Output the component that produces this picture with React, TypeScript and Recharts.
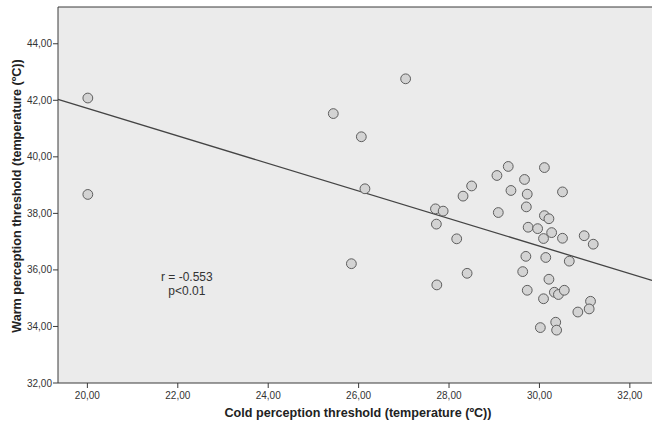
import React from 'react';
import {
  ScatterChart,
  Scatter,
  XAxis,
  YAxis,
  CartesianGrid,
  ReferenceLine,
  Label,
  ReferenceDot,
} from 'recharts';

// Cold perception threshold (x) and warm perception threshold (y), one entry per subject
const coldThreshold = [
  20.01, 20.01, 27.04, 25.44, 26.06, 26.14, 27.7, 27.87, 27.72, 28.17,
  25.84, 27.73, 29.31, 30.11, 29.06, 29.67, 28.5, 29.37, 30.51, 29.73,
  28.31, 29.71, 29.09, 30.11, 30.21, 29.75, 29.96, 30.27, 30.99, 30.09,
  30.51, 31.19, 29.7, 30.14, 30.66, 28.4, 29.63, 30.21, 29.73, 30.33,
  30.42, 30.55, 30.09, 31.13, 31.1, 30.85, 30.36, 30.02, 30.38,
];
const warmThreshold = [
  42.08, 38.67, 42.76, 41.53, 40.71, 38.87, 38.16, 38.08, 37.62, 37.1,
  36.22, 35.47, 39.66, 39.62, 39.34, 39.2, 38.97, 38.81, 38.76, 38.68,
  38.61, 38.23, 38.03, 37.92, 37.81, 37.51, 37.46, 37.32, 37.21, 37.11,
  37.12, 36.91, 36.48, 36.44, 36.31, 35.88, 35.94, 35.67, 35.28, 35.21,
  35.13, 35.28, 34.98, 34.89, 34.62, 34.51, 34.15, 33.96, 33.87,
];

const xDomain = [19.35, 32.49];
const yDomain = [32, 45.3];
const xTicks = [20, 22, 24, 26, 28, 30, 32];
const yTicks = [32, 34, 36, 38, 40, 42, 44];

// Fit line end points
const fitLineX = [19.35, 32.49];
const fitLineY = [42.03, 35.63];

const annotationLines = ['r = -0.553', 'p<0.01'];
const annotationAnchor = { x: 22.2, y: 35.45 };

const xTitle = 'Cold perception threshold (temperature (ºC))';
const yTitle = 'Warm perception threshold (temperature (ºC))';

const points = coldThreshold.map((x, i) => ({ x, y: warmThreshold[i] }));

const FONT = '"Liberation Sans", Arial, sans-serif';
const AXIS_COLOR = '#3a3a3a';

const fmt = (v: number) => v.toFixed(2).replace('.', ',');

const Dot = (props: any) => {
  const { cx, cy } = props;
  if (cx == null || cy == null) return null;
  return <circle cx={cx} cy={cy} r={4.9} fill="#d3d3d3" stroke="#5e5e5e" strokeWidth={1} />;
};

export default function App() {
  return (
    <div style={{ position: 'absolute', left: 0, top: 0, width: 652, height: 423, background: '#fff', overflow: 'hidden' }}>
      <ScatterChart
        width={652}
        height={423}
        margin={{ top: 7, right: 0, bottom: 0, left: 0 }}
        style={{ fontFamily: FONT }}
      >
        <CartesianGrid fill="#ebebeb" fillOpacity={1} horizontal={false} vertical={false} stroke="none" />
        <XAxis
          type="number"
          dataKey="x"
          domain={xDomain}
          ticks={xTicks}
          allowDataOverflow
          height={40}
          tickFormatter={fmt}
          tickSize={5}
          tickMargin={4}
          axisLine={{ stroke: AXIS_COLOR }}
          tickLine={{ stroke: AXIS_COLOR }}
          tick={{ fill: '#333', fontSize: 10, fontFamily: FONT }}
        >
          <Label
            content={(p: any) => {
              const vb = p.viewBox || {};
              return (
                <text
                  x={vb.x + vb.width / 2 + 3}
                  y={417}
                  textAnchor="middle"
                  fontSize={12.6}
                  fontWeight="bold"
                  fill="#222"
                  fontFamily={FONT}
                >
                  {xTitle}
                </text>
              );
            }}
          />
        </XAxis>
        <YAxis
          type="number"
          dataKey="y"
          domain={yDomain}
          ticks={yTicks}
          allowDataOverflow
          width={58}
          tickFormatter={fmt}
          tickSize={5}
          tickMargin={1}
          axisLine={{ stroke: AXIS_COLOR }}
          tickLine={{ stroke: AXIS_COLOR }}
          tick={{ fill: '#333', fontSize: 10, fontFamily: FONT }}
        >
          <Label
            content={(p: any) => {
              const vb = p.viewBox || {};
              const cy = vb.y + vb.height / 2;
              return (
                <text
                  x={0}
                  y={0}
                  transform={`translate(21, ${cy + 1}) rotate(-90)`}
                  textAnchor="middle"
                  fontSize={12.6}
                  fontWeight="bold"
                  fill="#222"
                  fontFamily={FONT}
                >
                  {yTitle}
                </text>
              );
            }}
          />
        </YAxis>
        <ReferenceLine y={yDomain[1]} stroke={AXIS_COLOR} strokeWidth={1} />
        <ReferenceLine
          segment={[
            { x: fitLineX[0], y: fitLineY[0] },
            { x: fitLineX[1], y: fitLineY[1] },
          ]}
          stroke="#444"
          strokeWidth={1.3}
        />
        <Scatter data={points} shape={Dot} isAnimationActive={false} />
        <ReferenceDot
          x={annotationAnchor.x}
          y={annotationAnchor.y}
          r={0}
          fill="none"
          stroke="none"
          label={(p: any) => {
            const vb = p.viewBox || {};
            const cx = vb.x + (vb.width || 0) / 2;
            const cy = vb.y + (vb.height || 0) / 2;
            return (
              <g>
                {annotationLines.map((t, i) => (
                  <text
                    key={t}
                    x={cx}
                    y={cy - 4 + i * 14}
                    textAnchor="middle"
                    fontSize={12}
                    fill="#333"
                    fontFamily={FONT}
                  >
                    {t}
                  </text>
                ))}
              </g>
            );
          }}
        />
      </ScatterChart>
    </div>
  );
}
